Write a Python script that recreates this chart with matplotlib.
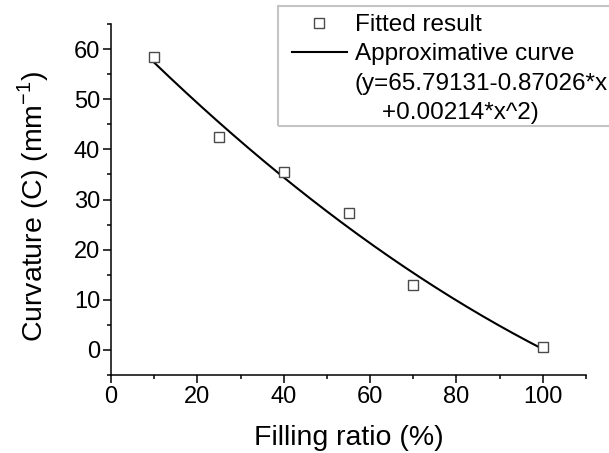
import numpy as np
import matplotlib
matplotlib.use("Agg")
import matplotlib.pyplot as plt
from matplotlib.lines import Line2D
from matplotlib.patches import Rectangle
from matplotlib.ticker import MultipleLocator

plt.rcParams['font.family'] = ['Liberation Sans', 'DejaVu Sans']

# measured points
filling = [10, 25, 40, 55, 70, 100]
curvature = [58.4, 42.5, 35.4, 27.4, 12.9, 0.6]

# quadratic fit coefficients
c0, c1, c2 = 65.79131, -0.87026, 0.00214
eq_lines = ['(y=65.79131-0.87026*x', '    +0.00214*x^2)']

W, H = 609, 453
fig = plt.figure(figsize=(W / 100, H / 100), dpi=100)
ax = fig.add_axes([111 / W, 1 - 375 / H, 475 / W, 351 / H])

xs = np.linspace(10, 100, 200)
fit_line, = ax.plot(xs, c0 + c1 * xs + c2 * xs ** 2, color='black', lw=1.5)
pts, = ax.plot(filling, curvature, ls='none', marker='s', ms=6.8, mfc='white',
               mec='#4a4a4a', mew=1.0)

ax.set_xlim(0, 110)
ax.set_ylim(-5, 65)
ax.xaxis.set_minor_locator(MultipleLocator(10))
ax.yaxis.set_minor_locator(MultipleLocator(5))
ax.set_xticks([0, 20, 40, 60, 80, 100])
ax.set_yticks([0, 10, 20, 30, 40, 50, 60])

for side in ('top', 'right'):
    ax.spines[side].set_visible(False)
for side in ('left', 'bottom'):
    ax.spines[side].set_linewidth(1.1)
ax.tick_params(which='major', direction='out', length=5.8, width=1.1,
               labelsize=17, pad=2)
ax.tick_params(which='minor', direction='out', length=3, width=1.1)

# axis titles pinned by their baselines
ax.set_xlabel('Filling ratio (%)', fontsize=20.5, va='baseline')
ax.xaxis.set_label_coords(0.5, -70 / 351)
ax.set_ylabel('Curvature (C) (mm$^{\\mathregular{-1}}$)', fontsize=20.5, va='baseline')
ax.yaxis.set_label_coords(-69 / 475, 0.48)

# legend: equation text goes on its own rows without handles
blank = Line2D([], [], ls='none')
leg = fig.legend([pts, fit_line, blank, blank],
                 ['Fitted result', 'Approximative curve'] + eq_lines,
                 loc='upper left', bbox_to_anchor=(292 / W, 1 - 14 / H),
                 frameon=False, fontsize=17.5, handlelength=2.26,
                 handletextpad=0.33, borderaxespad=0, borderpad=0,
                 labelspacing=0.3)
fig.add_artist(Rectangle((278 / W, 1 - 126 / H), 0.6, 120 / H,
                         transform=fig.transFigure, fill=False,
                         edgecolor='#c4c4c4', lw=1.5))

fig.savefig('out.png', dpi=100)
